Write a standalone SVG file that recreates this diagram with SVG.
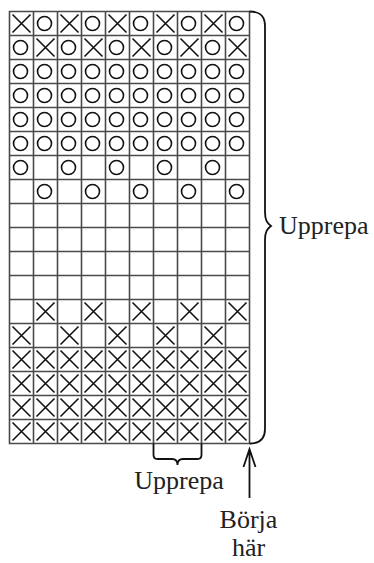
<svg xmlns="http://www.w3.org/2000/svg" xmlns:xlink="http://www.w3.org/1999/xlink" width="374" height="563" viewBox="0 0 374 563">
<style>
.grid{fill:none;stroke:#4a4a4a;stroke-width:1.6}
.o{fill:none;stroke:#111;stroke-width:1.6}
.x{fill:none;stroke:#111;stroke-width:1.6}
.conn{fill:none;stroke:#111;stroke-width:1.8}
.lbl{font-family:"Liberation Serif","Times New Roman",serif;font-size:26px;fill:#222}
</style>
<defs>
<circle id="O" class="o" r="7"/>
<path id="X" class="x" d="M-9,-9L9,9M9,-9L-9,9"/>
<g id="oAll"><use href="#O" x="20.5"/><use href="#O" x="44.5"/><use href="#O" x="68.5"/><use href="#O" x="92.5"/><use href="#O" x="116.5"/><use href="#O" x="140.5"/><use href="#O" x="164.5"/><use href="#O" x="188.5"/><use href="#O" x="212.5"/><use href="#O" x="236.5"/></g>
<g id="xAll"><use href="#X" x="21.5"/><use href="#X" x="45.5"/><use href="#X" x="69.5"/><use href="#X" x="93.5"/><use href="#X" x="117.5"/><use href="#X" x="141.5"/><use href="#X" x="165.5"/><use href="#X" x="189.5"/><use href="#X" x="213.5"/><use href="#X" x="237.5"/></g>
<g id="oEven"><use href="#O" x="20.5"/><use href="#O" x="68.5"/><use href="#O" x="116.5"/><use href="#O" x="164.5"/><use href="#O" x="212.5"/></g>
<g id="oOdd"><use href="#O" x="44.5"/><use href="#O" x="92.5"/><use href="#O" x="140.5"/><use href="#O" x="188.5"/><use href="#O" x="236.5"/></g>
<g id="xEven"><use href="#X" x="21.5"/><use href="#X" x="69.5"/><use href="#X" x="117.5"/><use href="#X" x="165.5"/><use href="#X" x="213.5"/></g>
<g id="xOdd"><use href="#X" x="45.5"/><use href="#X" x="93.5"/><use href="#X" x="141.5"/><use href="#X" x="189.5"/><use href="#X" x="237.5"/></g>
</defs>
<g id="chart">
<path class="grid" d="M9.5,11.5H249.5V443.5H9.5Z
M33.5,11.5V443.5M57.5,11.5V443.5M81.5,11.5V443.5M105.5,11.5V443.5M129.5,11.5V443.5M153.5,11.5V443.5M177.5,11.5V443.5M201.5,11.5V443.5M225.5,11.5V443.5
M9.5,35.5H249.5M9.5,59.5H249.5M9.5,83.5H249.5M9.5,107.5H249.5M9.5,131.5H249.5M9.5,155.5H249.5M9.5,179.5H249.5M9.5,203.5H249.5M9.5,227.5H249.5M9.5,251.5H249.5M9.5,275.5H249.5M9.5,299.5H249.5M9.5,323.5H249.5M9.5,347.5H249.5M9.5,371.5H249.5M9.5,395.5H249.5M9.5,419.5H249.5"/>
<g id="symbols">
<use href="#xEven" y="23.5"/><use href="#oOdd" y="23.5"/>
<use href="#oEven" y="47.5"/><use href="#xOdd" y="47.5"/>
<use href="#oAll" y="71.5"/>
<use href="#oAll" y="95.5"/>
<use href="#oAll" y="119.5"/>
<use href="#oAll" y="143.5"/>
<use href="#oEven" y="167.5"/>
<use href="#oOdd" y="191.5"/>
<use href="#xOdd" y="311.5"/>
<use href="#xEven" y="335.5"/>
<use href="#xAll" y="359.5"/>
<use href="#xAll" y="383.5"/>
<use href="#xAll" y="407.5"/>
<use href="#xAll" y="431.5"/>
</g>
</g>
<g id="connectors">
<path class="conn" d="M249.5,11.5C258,11.5 265,14 265,26L265,212C265,220 267,223 271,226C267,229 265,232 265,240L265,429C265,440 258,443.5 249.5,443.5"/>
<path class="conn" d="M153.5,443.5L153.5,455Q153.5,459 157.5,459L172,459Q177.5,459 177.5,465Q177.5,459 183,459L197.5,459Q201.5,459 201.5,455L201.5,443.5"/>
<path class="conn" d="M249.5,498V449M243.5,467L249.5,449L255.5,467"/>
</g>
<g id="label-repeat-rows"><text class="lbl" x="279" y="234">Upprepa</text></g>
<g id="label-repeat-cols"><text class="lbl" x="179" y="489" text-anchor="middle">Upprepa</text></g>
<g id="label-start"><text class="lbl" x="248.5" y="528" text-anchor="middle">Börja</text><text class="lbl" x="248.5" y="556" text-anchor="middle">här</text></g>
</svg>
